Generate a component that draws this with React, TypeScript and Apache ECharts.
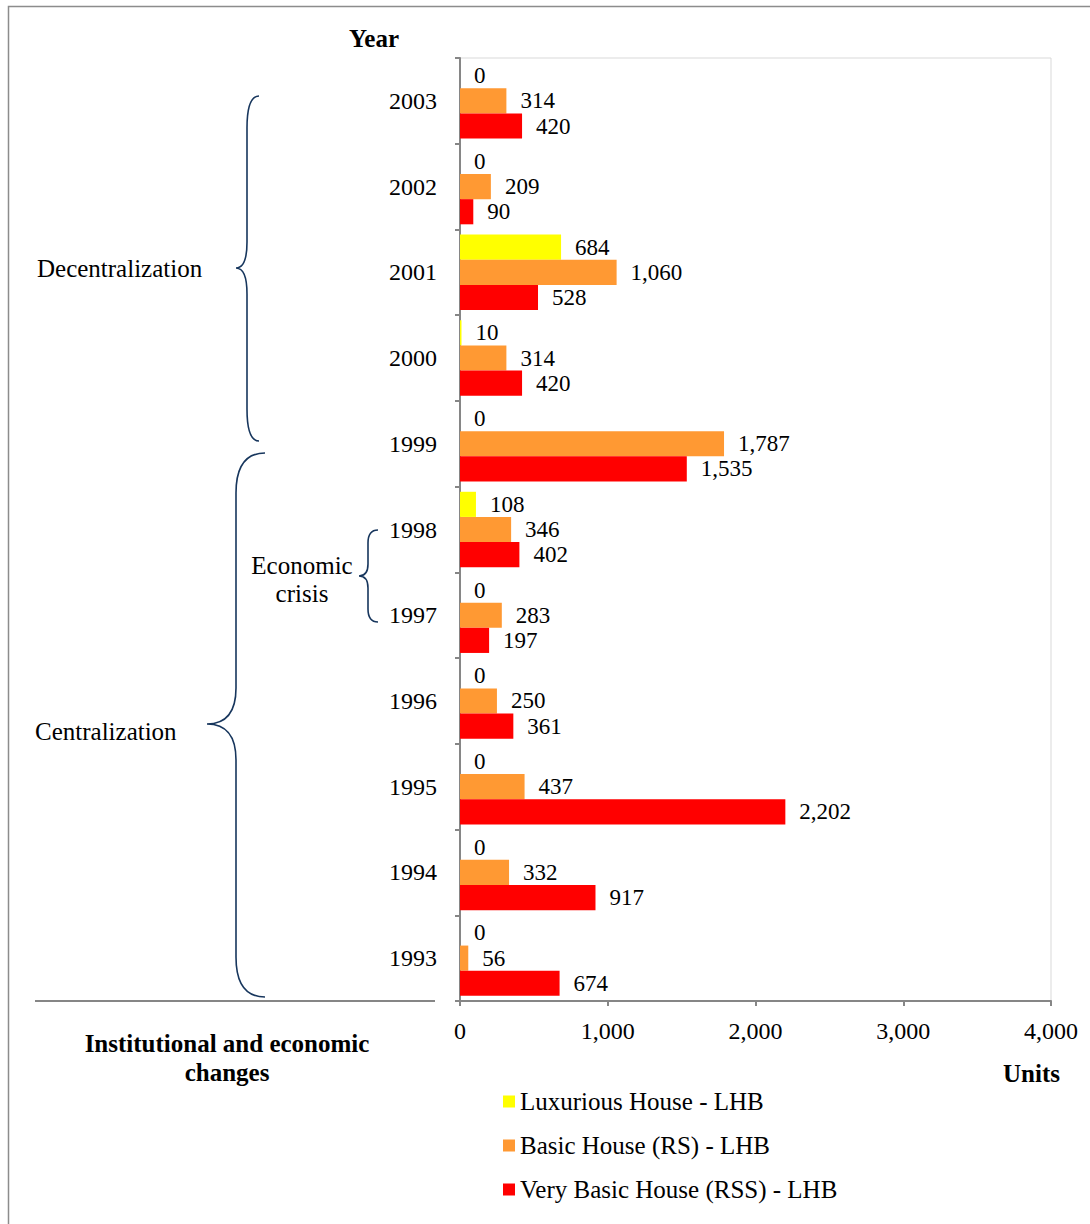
import React, { useEffect, useRef } from "react";
import * as echarts from "echarts";

const years = ["1993", "1994", "1995", "1996", "1997", "1998", "1999", "2000", "2001", "2002", "2003"];
const luxurious = [0, 0, 0, 0, 0, 108, 0, 10, 684, 0, 0];
const basic = [56, 332, 437, 250, 283, 346, 1787, 314, 1060, 209, 314];
const veryBasic = [674, 917, 2202, 361, 197, 402, 1535, 420, 528, 90, 420];
const seriesNames = ["Luxurious House - LHB", "Basic House (RS) - LHB", "Very Basic House (RSS) - LHB"];
const seriesColors = ["#FFFF00", "#FF9933", "#FF0000"];
const xTicks = [0, 1000, 2000, 3000, 4000];

const SERIF = "'Liberation Serif', 'Times New Roman', serif";

function bracePath(xe: number, yt: number, yb: number, xs: number, xt: number, ytip: number, r: number, r2: number) {
  return (
    `M${xe},${yt} Q${xs},${yt} ${xs},${yt + r} L${xs},${ytip - r2} Q${xs},${ytip} ${xt},${ytip} ` +
    `Q${xs},${ytip} ${xs},${ytip + r2} L${xs},${yb - r} Q${xs},${yb} ${xe},${yb}`
  );
}

echarts.graphic.registerShape("braceDec", echarts.graphic.extendPath(bracePath(259, 96, 441, 247, 236, 268, 32, 26), {}));
echarts.graphic.registerShape("braceCen", echarts.graphic.extendPath(bracePath(265, 453, 997, 236, 207, 724, 40, 36), {}));
echarts.graphic.registerShape("braceEco", echarts.graphic.extendPath(bracePath(378, 530, 622, 368, 359, 576, 13, 12), {}));

const braceStyle = { fill: "none", stroke: "#17365d", lineWidth: 1.6 };

export default function App() {
  const ref = useRef<HTMLDivElement>(null);
  useEffect(() => {
    if (!ref.current) return;
    const chart = echarts.init(ref.current, null, { renderer: "svg" });
    const dataSets = [luxurious, basic, veryBasic];
    const labelFmt = (p: any) => Number(p.value).toLocaleString("en-US");
    chart.setOption({
      animation: false,
      backgroundColor: "#ffffff",
      textStyle: { fontFamily: SERIF },
      grid: {
        left: 460,
        right: 39,
        top: 58,
        bottom: 223,
        show: true,
        borderColor: "#d9d9d9",
        borderWidth: 1,
      },
      legend: {
        data: seriesNames,
        orient: "vertical",
        left: 498,
        top: 1084,
        itemWidth: 12,
        itemHeight: 12,
        itemGap: 19,
        icon: "rect",
        textStyle: { fontFamily: SERIF, fontSize: 25, color: "#000" },
      },
      xAxis: {
        type: "value",
        min: xTicks[0],
        max: xTicks[xTicks.length - 1],
        interval: 1000,
        axisLine: { show: true, lineStyle: { color: "#868686", width: 2 } },
        axisTick: { show: true, length: 5, lineStyle: { color: "#868686", width: 2 } },
        splitLine: { show: false },
        axisLabel: {
          fontFamily: SERIF,
          fontSize: 24,
          color: "#000",
          margin: 18,
          formatter: (v: number) => v.toLocaleString("en-US"),
        },
      },
      yAxis: {
        type: "category",
        data: years,
        axisLine: { show: true, lineStyle: { color: "#868686", width: 2 } },
        axisTick: { show: true, length: 5, interval: 0, lineStyle: { color: "#868686", width: 2 } },
        axisLabel: { fontFamily: SERIF, fontSize: 24, color: "#000", margin: 23, interval: 0 },
      },
      series: seriesNames.map((name, i) => ({
        name,
        type: "bar",
        data: dataSets[i],
        barGap: "0%",
        barCategoryGap: "12%",
        itemStyle: { color: seriesColors[i] },
        label: {
          show: true,
          position: "right",
          distance: 14,
          fontFamily: SERIF,
          fontSize: 23,
          color: "#000",
          formatter: labelFmt,
        },
      })),
      graphic: [
        { type: "rect", shape: { x: 8.5, y: 6.5, width: 1200, height: 1300 }, style: { fill: "none", stroke: "#8c8c8c", lineWidth: 1.5 }, silent: true },
        { type: "line", shape: { x1: 35, y1: 1001, x2: 435, y2: 1001 }, style: { stroke: "#868686", lineWidth: 2 } },
        { type: "braceDec", x: 0, y: 0, style: braceStyle },
        { type: "braceCen", x: 0, y: 0, style: braceStyle },
        { type: "braceEco", x: 0, y: 0, style: braceStyle },
        { type: "text", x: 374, y: 38, style: { text: "Year", font: `bold 25px ${SERIF}`, fill: "#000", textAlign: "center", textVerticalAlign: "middle" } },
        { type: "text", x: 37, y: 268, style: { text: "Decentralization", font: `25px ${SERIF}`, fill: "#000", textAlign: "left", textVerticalAlign: "middle" } },
        { type: "text", x: 35, y: 731, style: { text: "Centralization", font: `25px ${SERIF}`, fill: "#000", textAlign: "left", textVerticalAlign: "middle" } },
        { type: "text", x: 302, y: 579, style: { text: "Economic\ncrisis", font: `25px ${SERIF}`, lineHeight: 28, fill: "#000", textAlign: "center", textVerticalAlign: "middle" } },
        { type: "text", x: 227, y: 1058, style: { text: "Institutional and economic\nchanges", font: `bold 25px ${SERIF}`, lineHeight: 29, fill: "#000", textAlign: "center", textVerticalAlign: "middle" } },
        { type: "text", x: 1003, y: 1073, style: { text: "Units", font: `bold 25px ${SERIF}`, fill: "#000", textAlign: "left", textVerticalAlign: "middle" } },
      ],
    });
    return () => chart.dispose();
  }, []);
  return <div ref={ref} style={{ position: "absolute", left: 0, top: 0, width: 1090, height: 1224 }} />;
}
